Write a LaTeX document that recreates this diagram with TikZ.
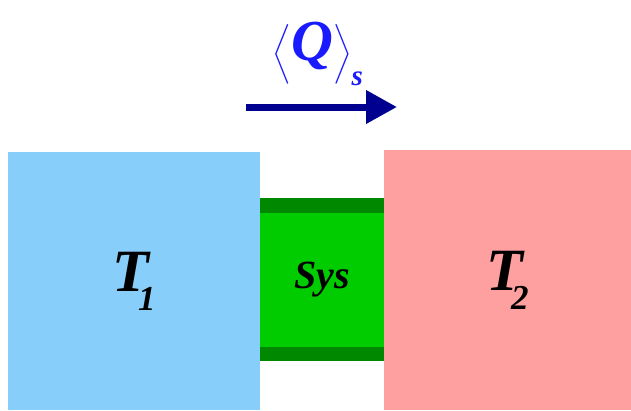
\documentclass[tikz,border=0pt]{standalone}
\usepackage{amsmath}
\usepackage{fontspec}
\setmainfont{Liberation Serif}
\usetikzlibrary{arrows.meta,positioning}
\definecolor{coldbath}{HTML}{87CEFA}
\definecolor{hotbath}{HTML}{FFA0A0}
\definecolor{sysgreen}{HTML}{00CC00}
\definecolor{sysedge}{HTML}{008800}
\definecolor{flowblue}{HTML}{1A1AFF}
\definecolor{flownavy}{HTML}{000090}

\begin{document}
\begin{tikzpicture}[x=1pt, y=-1pt,
    bath/.style={rectangle, inner sep=0pt, font=\fontsize{60}{62}\selectfont\bfseries\itshape},
    sysbox/.style={rectangle, inner sep=0pt, fill=sysgreen, minimum width=124pt, minimum height=163pt,
      font=\fontsize{40}{42}\selectfont\bfseries\itshape},
    flow/.style={-{Triangle[length=31pt,width=32pt]}, line width=7pt, flownavy},
    lbl/.style={text=flowblue, font=\fontsize{58}{60}\selectfont\bfseries\itshape},
  ]
  \useasboundingbox (0,0) rectangle (631,410);
  \node[bath, fill=coldbath, minimum width=252pt, minimum height=258pt] (T1) at (134,281)
    {T\kern-11pt\raisebox{-19pt}{\fontsize{35}{35}\selectfont 1}};
  \node[bath, fill=hotbath, minimum width=247pt, minimum height=260pt] (T2) at (507.5,280)
    {T\kern-12pt\raisebox{-19pt}{\fontsize{35}{35}\selectfont 2}};
  \node[sysbox] (sys) at (322,279.5) {Sys};
  % dark strips on the system
  \fill[sysedge] (sys.north west) rectangle ([yshift=-15pt]sys.north east);
  \fill[sysedge] (sys.south west) rectangle ([yshift=14pt]sys.south east);
  \coordinate (qa) at (246,107);
  \coordinate (qb) at (397,107);
  \draw[flow] (qa) -- (qb);
  \node[lbl] (Q) at (318,54) {$\left\langle\text{Q}\right\rangle_{\text{\fontsize{29}{29}\selectfont s}}$};
\end{tikzpicture}
\end{document}
